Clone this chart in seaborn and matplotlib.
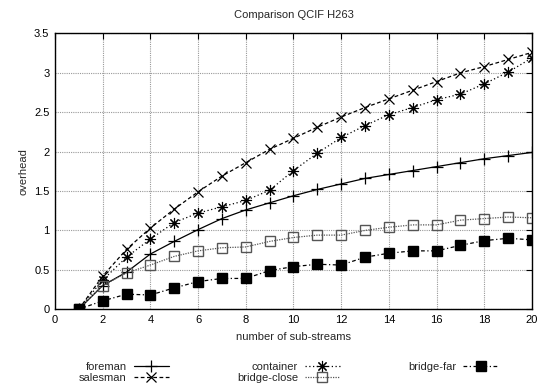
import numpy as np
import pandas as pd
import matplotlib
matplotlib.use("Agg")
import matplotlib.pyplot as plt
import seaborn as sns

streams = list(range(1, 21))
foreman = [0.0, 0.30, 0.47, 0.70, 0.86, 1.01, 1.15, 1.26, 1.35, 1.44,
           1.52, 1.59, 1.66, 1.71, 1.76, 1.81, 1.86, 1.91, 1.95, 1.99]
salesman = [0.0, 0.42, 0.76, 1.03, 1.27, 1.49, 1.69, 1.86, 2.03, 2.17,
            2.31, 2.44, 2.56, 2.67, 2.78, 2.89, 3.00, 3.08, 3.17, 3.26]
container = [0.0, 0.37, 0.66, 0.89, 1.10, 1.22, 1.30, 1.38, 1.51, 1.76,
             1.98, 2.18, 2.33, 2.47, 2.56, 2.66, 2.73, 2.86, 3.01, 3.19]
bridge_close = [0.0, 0.30, 0.46, 0.56, 0.67, 0.74, 0.78, 0.79, 0.86, 0.91,
                0.94, 0.94, 1.00, 1.04, 1.07, 1.07, 1.13, 1.15, 1.17, 1.16]
bridge_far = [0.0, 0.105, 0.19, 0.18, 0.27, 0.35, 0.39, 0.39, 0.49, 0.54,
              0.57, 0.56, 0.66, 0.71, 0.74, 0.74, 0.81, 0.87, 0.90, 0.88]

series = {
    "foreman": foreman,
    "salesman": salesman,
    "container": container,
    "bridge-close": bridge_close,
    "bridge-far": bridge_far,
}

styles = {
    "foreman": dict(marker="+", linestyle="-", ms=9, mfc="none", color="black", mew=0.9),
    "salesman": dict(marker="x", linestyle=(0, (3, 2)), ms=7, mfc="none", color="black", mew=0.9),
    "container": dict(marker=(8, 2, 0), linestyle=(0, (1, 2)), ms=8, mfc="none", color="black", mew=0.8),
    "bridge-close": dict(marker="s", linestyle=(0, (1, 1)), ms=7, mfc="none", color="#555555", mew=1.0),
    "bridge-far": dict(marker="s", linestyle=(0, (3, 2, 1, 2)), ms=7, mfc="black", color="black", mew=1.0),
}

sns.set_theme(style="white")
plt.rcParams["font.family"] = ["Liberation Sans", "DejaVu Sans"]
plt.rcParams["font.size"] = 8

fig = plt.figure(figsize=(5.39, 3.85), dpi=100)
ax = fig.add_axes([0.102, 0.197, 0.885, 0.716])

for name, vals in series.items():
    df = pd.DataFrame({"x": streams, "y": vals})
    st = styles[name]
    sns.lineplot(data=df, x="x", y="y", ax=ax, label=name,
                 color=st["color"], linewidth=0.9, linestyle=st["linestyle"],
                 marker=st["marker"], markersize=st["ms"],
                 markerfacecolor=st["mfc"], markeredgecolor=st["color"],
                 markeredgewidth=st["mew"])

ax.set_xlim(0, 20)
ax.set_ylim(0, 3.5)
ax.set_xticks(np.arange(0, 21, 2))
ax.set_yticks(np.arange(0, 3.51, 0.5))
ax.set_yticklabels(["0", "0.5", "1", "1.5", "2", "2.5", "3", "3.5"])
ax.grid(True, color="#999999", linestyle=(0, (1, 1)), linewidth=0.8)
ax.tick_params(direction="in", length=4, width=0.8, top=True, right=True,
               labelsize=8, colors="black", pad=4)
for sp in ax.spines.values():
    sp.set_color("black")
    sp.set_linewidth(1.0)

ax.set_title("Comparison QCIF H263", fontsize=8, pad=11)
ax.set_xlabel("number of sub-streams", fontsize=8, labelpad=5)
ax.set_ylabel("overhead", fontsize=8, labelpad=4)

ax.legend(loc="upper center", bbox_to_anchor=(0.49, -0.19), ncol=3,
          markerfirst=False, frameon=False, fontsize=8, handlelength=3.2,
          handletextpad=0.6, columnspacing=6.1, labelspacing=0.1,
          borderaxespad=0, borderpad=0)

fig.savefig("out.png", dpi=100)
